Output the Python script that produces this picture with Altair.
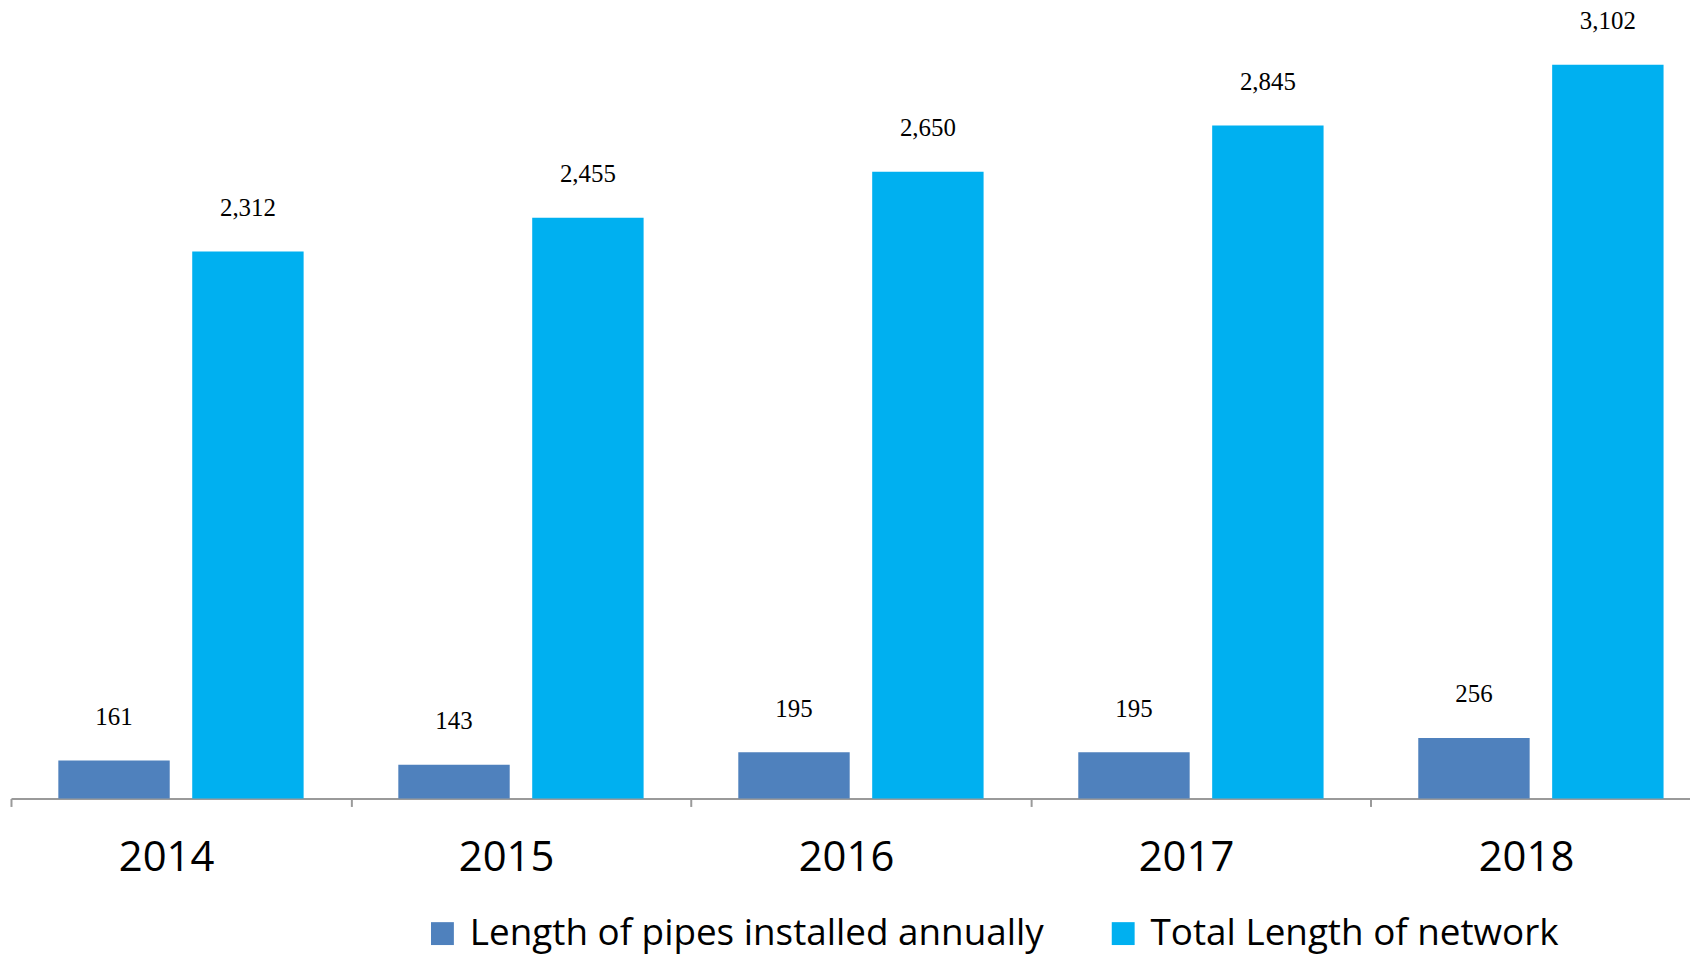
import altair as alt
import pandas as pd

years = ["2014", "2015", "2016", "2017", "2018"]
annual = [161, 143, 195, 195, 256]
total = [2312, 2455, 2650, 2845, 3102]
series = ["Length of pipes installed annually", "Total Length of network"]
colors = ["#4f81bd", "#00b0f0"]

rows = []
for y, a, t in zip(years, annual, total):
    rows.append({"year": y, "series": series[0], "value": a})
    rows.append({"year": y, "series": series[1], "value": t})
df = pd.DataFrame(rows)

base = alt.Chart(df).encode(
    x=alt.X(
        "year:N",
        sort=years,
        scale=alt.Scale(range=[0, 1708], paddingInner=0, paddingOuter=0),
        axis=alt.Axis(
            title=None,
            tickBand="extent",
            labelAngle=0,
            labelFont="Open Sans",
            labelFontSize=42,
            labelColor="black",
            labelBaseline="alphabetic",
            labelPadding=64,
            labelOffset=-15,
            domainColor="#9a9a9a",
            domainWidth=2,
            tickColor="#9a9a9a",
            tickWidth=2,
            tickSize=8,
        ),
    ),
    xOffset=alt.XOffset(
        "series:N",
        sort=series,
        scale=alt.Scale(paddingInner=0.168, paddingOuter=0.3536),
    ),
    y=alt.Y("value:Q", scale=alt.Scale(domain=[0, 3282]), axis=None),
)

bars = base.mark_bar().encode(
    color=alt.Color(
        "series:N",
        sort=series,
        scale=alt.Scale(domain=series, range=colors),
        legend=alt.Legend(
            title=None,
            orient="none",
            legendX=415,
            legendY=897,
            direction="horizontal",
            symbolType="square",
            symbolSize=529,
            symbolStrokeWidth=0,
            symbolOpacity=1,
            labelFont="Open Sans",
            labelFontSize=37,
            labelColor="black",
            labelOffset=9,
            labelLimit=1000,
            columnPadding=61,
            padding=0,
        ),
    )
)

labels = base.mark_text(
    dy=-36, baseline="alphabetic", font="Liberation Serif", fontSize=25, color="black"
).encode(text=alt.Text("value:Q", format=","))

chart = (
    alt.layer(bars, labels)
    .properties(
        width=1687,
        height=780,
        autosize=alt.AutoSizeParams(type="none"),
        padding={"left": 3, "top": 12, "right": 0, "bottom": 155},
        background="white",
    )
    .configure_view(stroke=None)
)

chart.save("out.html", embed_options={"renderer": "svg", "actions": False})
